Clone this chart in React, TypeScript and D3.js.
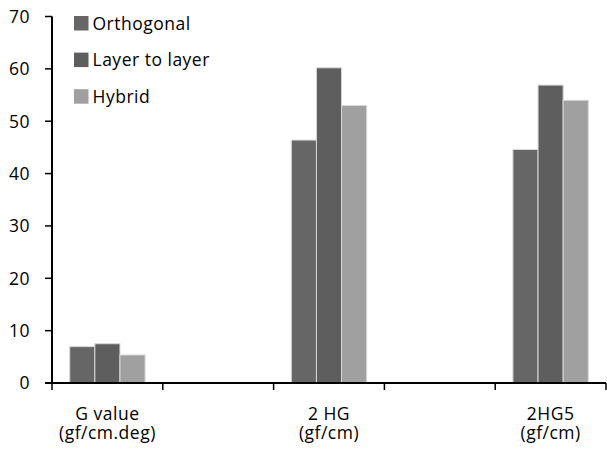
import React from "react";
import * as d3 from "d3";

const categories: string[] = ["G value", "", "2 HG", "", "2HG5"];
const units: string[] = ["(gf/cm.deg)", "", "(gf/cm)", "", "(gf/cm)"];
const seriesNames: string[] = ["Orthogonal", "Layer to layer", "Hybrid"];
const orthogonal: (number | null)[] = [6.95, null, 46.4, null, 44.6];
const layerToLayer: (number | null)[] = [7.5, null, 60.2, null, 56.9];
const hybrid: (number | null)[] = [5.35, null, 53.0, null, 54.0];
const yTicks: number[] = [0, 10, 20, 30, 40, 50, 60, 70];
const colors: string[] = ["#666666", "#5e5e5e", "#a0a0a0"];

const W = 607;
const H = 453;
const left = 52;
const right = 606;
const top = 16.5;
const bottom = 383;
const FONT = "'Open Sans', Lato, sans-serif";
const FS = 17.5;
const LS = 0.5;

export default function App() {
  const series = [orthogonal, layerToLayer, hybrid];
  const x = d3
    .scaleBand<number>()
    .domain(categories.map((_, i) => i))
    .range([left, right])
    .paddingInner(0)
    .paddingOuter(0);
  const y = d3.scaleLinear().domain([0, 70]).range([bottom, top]);
  const bw = x.bandwidth();
  const groupW = bw * 0.68;
  const inner = d3
    .scaleBand<number>()
    .domain(seriesNames.map((_, i) => i))
    .range([0, groupW]);
  const boundaries = d3.range(categories.length + 1).map((i) => left + i * bw);

  return (
    <div style={{ position: "absolute", left: 0, top: 0 }}>
      <svg width={W} height={H} style={{ display: "block", background: "#fff" }}>
        {series.map((vals, s) =>
          vals.map((v, i) =>
            v == null ? null : (
              <rect
                key={`${s}-${i}`}
                x={(x(i) as number) + (bw - groupW) / 2 + (inner(s) as number)}
                y={y(v)}
                width={inner.bandwidth()}
                height={y(0) - y(v)}
                fill={colors[s]}
                stroke="#d8d8d8"
                strokeWidth={1}
              />
            )
          )
        )}
        {/* y axis */}
        <line x1={left} x2={left} y1={top} y2={bottom} stroke="#000" strokeWidth={2} />
        {yTicks.map((t) => (
          <g key={t}>
            <line x1={left - 7} x2={left} y1={y(t)} y2={y(t)} stroke="#000" strokeWidth={1.5} />
            <text
              x={30}
              y={y(t)}
              dy="0.36em"
              textAnchor="end"
              fontFamily={FONT}
              fontSize={FS}
              letterSpacing={LS}
              fill="#000"
            >
              {t}
            </text>
          </g>
        ))}
        {/* x axis */}
        <line x1={left - 7} x2={right} y1={bottom} y2={bottom} stroke="#000" strokeWidth={2} />
        {boundaries.map((b, i) => (
          <line key={i} x1={b} x2={b} y1={bottom} y2={bottom + 7} stroke="#000" strokeWidth={1.5} />
        ))}
        {categories.map((c, i) =>
          c ? (
            <text
              key={i}
              textAnchor="middle"
              fontFamily={FONT}
              fontSize={FS}
              letterSpacing={LS}
              fill="#000"
            >
              <tspan x={(x(i) as number) + bw / 2} y={420}>
                {c}
              </tspan>
              <tspan x={(x(i) as number) + bw / 2} y={439}>
                {units[i]}
              </tspan>
            </text>
          ) : null
        )}
        {/* legend */}
        {seriesNames.map((n, s) => (
          <g key={n} transform={`translate(74, ${16 + s * 36.6})`}>
            <rect x={0} y={0} width={14.5} height={14.5} fill={colors[s]} />
            <text
              x={18.5}
              y={7.3}
              dy="0.36em"
              fontFamily={FONT}
              fontSize={FS}
              letterSpacing={LS}
              fill="#000"
            >
              {n}
            </text>
          </g>
        ))}
      </svg>
    </div>
  );
}
